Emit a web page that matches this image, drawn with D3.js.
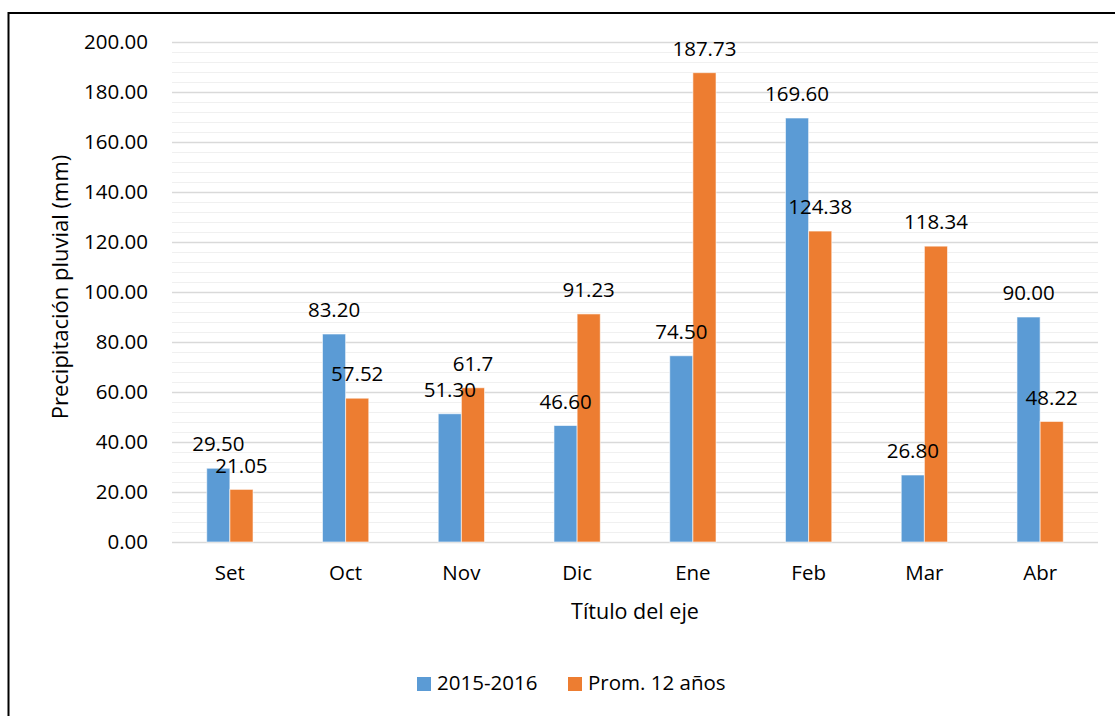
<!DOCTYPE html>
<html>
<head>
<meta charset="utf-8">
<script src="https://cdn.jsdelivr.net/npm/d3@7"></script>
<style>
  body { margin: 0; background: #fff; }
  text { font-family: "Open Sans", "Noto Sans", sans-serif; fill: #000; }
</style>
</head>
<body>
<svg id="chart" width="1115" height="716"></svg>
<script>
// data
const months = ["Set", "Oct", "Nov", "Dic", "Ene", "Feb", "Mar", "Abr"];
const serieNames = ["2015-2016", "Prom. 12 años"];
const lluvia2015 = [29.50, 83.20, 51.30, 46.60, 74.50, 169.60, 26.80, 90.00];
const prom12 = [21.05, 57.52, 61.7, 91.23, 187.73, 124.38, 118.34, 48.22];
const labels2015 = ["29.50", "83.20", "51.30", "46.60", "74.50", "169.60", "26.80", "90.00"];
const labelsProm = ["21.05", "57.52", "61.7", "91.23", "187.73", "124.38", "118.34", "48.22"];
const yTicks = [0, 20, 40, 60, 80, 100, 120, 140, 160, 180, 200];

const colors = ["#5B9BD5", "#ED7D31"];

const svg = d3.select("#chart");

// outer chart border (runs off the right/bottom edge)
svg.append("rect")
    .attr("x", 8.5).attr("y", 13)
    .attr("width", 1130).attr("height", 730)
    .attr("fill", "none")
    .attr("stroke", "#000")
    .attr("stroke-width", 2);

const plotLeft = 172, plotRight = 1098, plotTop = 42, plotBottom = 542;

const x = d3.scaleBand()
    .domain(months)
    .range([plotLeft, plotRight])
    .paddingInner(0.6)
    .paddingOuter(0.3);

const xs = d3.scaleBand()
    .domain([0, 1])
    .range([0, x.bandwidth()]);

const y = d3.scaleLinear()
    .domain([0, 200])
    .range([plotBottom, plotTop]);

// minor gridlines
svg.append("g")
    .selectAll("line")
    .data(d3.range(0, 201, 4).filter(v => v % 20 !== 0))
    .join("line")
    .attr("x1", plotLeft).attr("x2", plotRight)
    .attr("y1", d => y(d) + 0.5).attr("y2", d => y(d) + 0.5)
    .attr("stroke", "#f0f0f0")
    .attr("stroke-width", 1);

// major gridlines + tick labels
const yAxis = svg.append("g")
    .attr("transform", `translate(${plotLeft},0)`)
    .call(d3.axisLeft(y)
        .tickValues(yTicks)
        .tickSize(-(plotRight - plotLeft))
        .tickPadding(24)
        .tickFormat(d3.format(".2f")));
yAxis.select(".domain").remove();
yAxis.selectAll(".tick line")
    .attr("stroke", "#d9d9d9")
    .attr("stroke-width", 1.5);
yAxis.selectAll(".tick text")
    .style("font-family", "'Open Sans', sans-serif")
    .attr("font-size", 20.5)
    .attr("fill", "#000");

// bars
const groups = svg.append("g")
    .selectAll("g")
    .data(months.map((m, i) => ({ m, vals: [lluvia2015[i], prom12[i]], labs: [labels2015[i], labelsProm[i]] })))
    .join("g")
    .attr("transform", d => `translate(${x(d.m)},0)`);

groups.selectAll("rect")
    .data(d => d.vals.map((v, k) => ({ v, k })))
    .join("rect")
    .attr("x", d => xs(d.k))
    .attr("width", xs.bandwidth())
    .attr("y", d => y(d.v))
    .attr("height", d => y(0) - y(d.v))
    .attr("fill", d => colors[d.k])
    .attr("stroke", "#ffffff")
    .attr("stroke-opacity", 0.6)
    .attr("stroke-width", 1);

// data labels (outside end)
groups.selectAll("text")
    .data(d => d.vals.map((v, k) => ({ v, k, lab: d.labs[k] })))
    .join("text")
    .attr("x", d => xs(d.k) + xs.bandwidth() / 2)
    .attr("y", d => y(d.v) - 24)
    .attr("dy", "0.35em")
    .attr("text-anchor", "middle")
    .attr("font-size", 20.5)
    .text(d => d.lab);

// category labels
svg.append("g")
    .selectAll("text")
    .data(months)
    .join("text")
    .attr("x", d => x(d) + x.bandwidth() / 2)
    .attr("y", 580)
    .attr("text-anchor", "middle")
    .attr("font-size", 20.5)
    .text(d => d);

// axis titles
svg.append("text")
    .attr("x", (plotLeft + plotRight) / 2)
    .attr("y", 619)
    .attr("text-anchor", "middle")
    .attr("font-size", 21.5)
    .text("Título del eje");

svg.append("text")
    .attr("transform", `translate(68,287) rotate(-90)`)
    .attr("text-anchor", "middle")
    .attr("font-size", 22)
    .text("Precipitación pluvial (mm)");

// legend
const legendX = [417, 568];
const legend = svg.append("g")
    .selectAll("g")
    .data(serieNames)
    .join("g")
    .attr("transform", (d, i) => `translate(${legendX[i]},677)`);
legend.append("rect")
    .attr("width", 14).attr("height", 14)
    .attr("fill", (d, i) => colors[i]);
legend.append("text")
    .attr("x", 20)
    .attr("y", 13)
    .attr("font-size", 20.5)
    .text(d => d);
</script>
</body>
</html>
